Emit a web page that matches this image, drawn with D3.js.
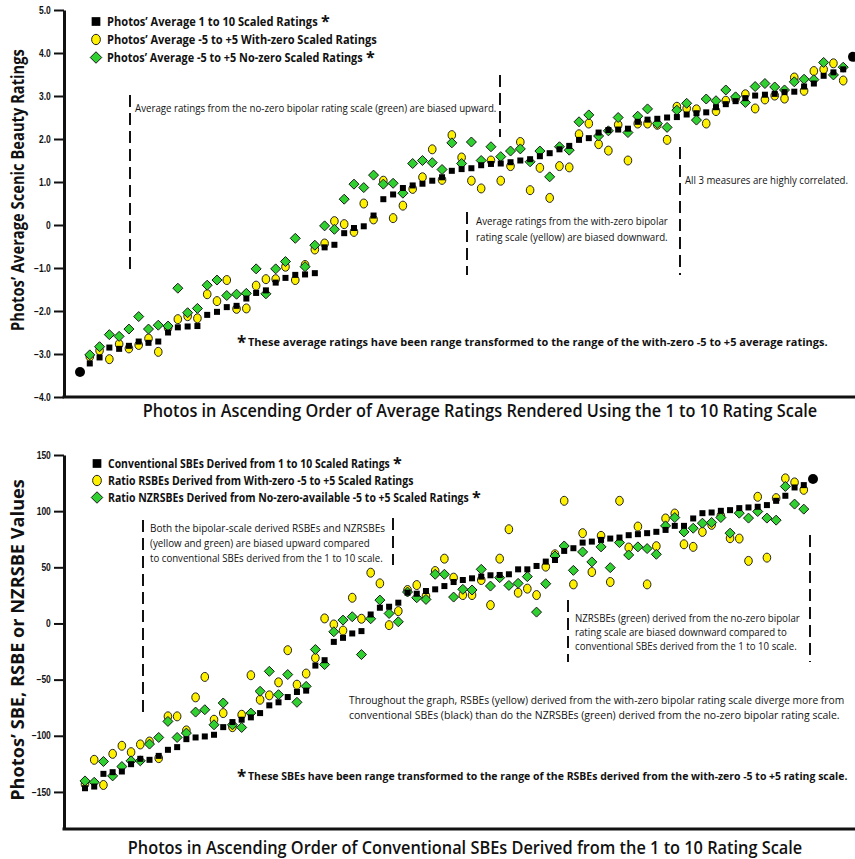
<!DOCTYPE html>
<html lang="en">
<head>
<meta charset="UTF-8">
<title>Scenic Beauty Ratings and SBEs</title>
<script src="https://d3js.org/d3.v7.min.js"></script>
<style>
  body { margin: 0; background: #fff; }
  svg text { font-family: "Open Sans", "DejaVu Sans", sans-serif; fill: #111; }
  .axis .tick text { font-family: "Liberation Sans", sans-serif; font-size: 10px; font-weight: bold; fill: #111; }
  .axis path, .axis line { stroke: #111; }
  .dash { stroke: #111; stroke-width: 2; stroke-dasharray: 12 6; }
  .sq { fill: #000; }
  .yel { fill: #fff000; stroke: #222; stroke-width: 1; }
  .grn { fill: #2fd02f; stroke: #1a1a1a; stroke-width: 1; }
</style>
</head>
<body>
<svg width="855" height="859"></svg>
<script>
// ---- top panel: photos' average ratings (range transformed) ----
const topBlack = [-3.42,-3.22,-3.08,-2.85,-2.88,-2.81,-2.71,-2.74,-2.71,-2.50,
  -2.38,-2.36,-2.35,-2.09,-2.02,-1.91,-1.88,-1.71,-1.58,-1.52,
  -1.34,-1.23,-1.16,-1.15,-1.12,-0.52,-0.46,-0.19,-0.07,-0.03,
  0.22,0.60,0.71,0.86,0.92,0.96,1.03,1.11,1.26,1.30,
  1.32,1.39,1.42,1.43,1.46,1.50,1.53,1.60,1.67,1.76,
  1.84,1.98,2.02,2.15,2.21,2.22,2.24,2.40,2.45,2.47,
  2.50,2.51,2.57,2.60,2.62,2.74,2.81,2.88,2.95,3.01,
  3.03,3.05,3.09,3.10,3.22,3.29,3.47,3.55,3.62,3.91];
const topYellow = [-3.42,-3.06,-2.92,-3.12,-2.77,-2.87,-2.79,-2.64,-2.95,-2.39,
  -2.19,-2.12,-2.17,-1.61,-1.77,-1.28,-1.95,-1.94,-1.41,-1.26,
  -1.26,-0.97,-1.28,-0.93,-0.57,-0.43,0.09,0.02,-0.16,0.50,
  0.13,1.03,0.16,0.45,0.84,1.11,1.76,1.05,2.09,1.57,
  1.03,0.85,1.50,1.03,1.37,1.93,0.81,1.33,0.63,1.37,
  1.34,2.11,2.36,1.88,1.73,2.33,1.50,2.36,2.36,2.33,
  1.98,2.75,2.71,2.69,2.36,2.65,2.89,2.94,3.04,2.71,
  2.92,3.01,2.94,3.43,3.12,3.58,3.62,3.76,3.36,3.91];
const topGreen = [-3.42,-3.02,-2.83,-2.55,-2.59,-2.42,-2.13,-2.42,-2.33,-2.35,
  -1.47,-2.04,-1.94,-1.40,-1.28,-1.64,-1.61,-1.59,-1.02,-1.60,
  -1.02,-0.85,-0.31,-0.97,-0.47,-0.02,-0.10,0.60,0.95,0.87,
  1.16,0.95,0.97,0.74,1.43,1.50,1.45,1.29,1.91,1.43,
  1.93,1.50,1.82,1.59,1.72,1.77,1.47,1.72,1.12,1.82,
  1.74,2.40,2.56,2.07,2.19,2.50,2.15,2.53,2.70,2.36,
  2.27,2.67,2.83,2.44,2.93,2.89,3.14,2.98,2.85,3.22,
  3.29,3.21,3.14,3.33,3.39,3.38,3.78,3.49,3.67,3.91];
const topTicks = [5, 4, 3, 2, 1, 0, -1, -2, -3, -4];

// ---- bottom panel: SBE, RSBE and NZRSBE values ----
const botBlack = [-146.7,-145.2,-133.9,-132.4,-131.8,-125.3,-120.5,-121.4,-117.9,-112.5,
  -110.1,-103.0,-101.5,-100.6,-99.1,-92.3,-87.8,-85.7,-83.6,-79.8,
  -72.9,-70.2,-65.5,-61.0,-59.8,-37.5,-32.7,-16.4,-12.8,-8.9,
  -6.8,8.0,14.0,14.9,18.5,27.4,26.5,28.9,30.4,33.3,
  36.9,38.7,40.2,41.7,42.9,43.2,43.8,48.2,48.2,51.2,
  55.1,56.5,64.6,67.0,72.0,72.9,74.4,75.6,76.5,78.6,
  79.5,80.4,81.6,83.3,86.9,86.9,93.5,98.2,98.8,100.3,
  100.9,102.7,103.3,103.9,105.4,109.2,113.7,121.1,123.2,128.6];
const botYellow = [-143.0,-121.4,-143.8,-116.1,-108.9,-114.6,-107.7,-105.1,-119.9,-82.7,
  -82.7,-95.2,-65.8,-47.6,-85.7,-79.8,-92.3,-81.3,-46.1,-67.9,
  -64.0,-52.4,-23.8,-54.5,-44.6,-30.7,4.5,-0.9,-6.3,22.9,
  4.2,45.2,35.7,-1.5,11.0,29.8,34.2,24.4,46.7,57.7,
  40.8,25.3,25.3,38.7,16.4,57.7,83.9,27.4,31.0,25.3,
  50.6,61.6,109.2,34.8,80.4,45.8,78.0,36.9,109.2,67.6,
  86.3,34.8,68.8,93.5,97.9,70.5,68.2,81.5,87.8,95.8,
  75.9,75.6,55.7,112.8,58.6,111.6,129.2,125.6,119.0,128.6];
const botGreen = [-140.2,-141.4,-122.9,-135.7,-127.4,-122.3,-122.3,-107.4,-101.5,-87.2,
  -101.5,-97.6,-78.9,-76.8,-90.2,-70.8,-90.2,-92.6,-79.8,-60.4,
  -42.6,-63.4,-45.5,-70.2,-56.0,-23.2,-36.6,-7.4,3.0,6.0,
  -27.7,4.2,20.8,8.9,1.5,28.0,22.9,21.4,43.8,43.8,
  23.5,30.4,29.8,48.2,33.3,40.8,33.9,35.7,41.7,10.1,
  35.4,60.1,69.0,47.3,63.7,54.8,68.2,49.7,72.0,61.0,
  68.2,66.7,61.6,86.9,94.3,81.5,84.8,89.3,89.9,94.3,
  80.4,98.2,93.8,99.7,93.8,92.0,122.0,106.3,101.8,128.6];
const botTicks = [150, 100, 50, 0, -50, -100, -150];

const topLegend = [
  ["sq", "Photos\u2019 Average 1 to 10 Scaled Ratings", true, 211],
  ["yel", "Photos\u2019 Average -5 to +5 With-zero Scaled Ratings", false, 270],
  ["grn", "Photos\u2019 Average -5 to +5 No-zero Scaled Ratings", true, 256]
];
const botLegend = [
  ["sq", "Conventional SBEs Derived from 1 to 10 Scaled Ratings", true, 282],
  ["yel", "Ratio RSBEs Derived from With-zero -5 to +5 Scaled Ratings", false, 306],
  ["grn", "Ratio NZRSBEs Derived from No-zero-available -5 to +5 Scaled Ratings", true, 361]
];

const svg = d3.select("svg");

// text squeezed horizontally to the width it has in the original (narrow face there)
function txt(g, x, y, s, size, weight, len, anchor, rot) {
  const t = g.append("text")
    .attr("font-size", size)
    .attr("font-weight", weight || "normal")
    .attr("text-anchor", anchor || "start")
    .text(s);
  const k = len ? len / t.node().getComputedTextLength() : 1;
  t.attr("transform", `translate(${x},${y})${rot ? " rotate(-90)" : ""} scale(${k},1)`);
  return t;
}

function dashed(g, x, y1, y2) {
  g.append("line").attr("class", "dash")
    .attr("x1", x).attr("x2", x).attr("y1", y1).attr("y2", y2);
}

function marker(g, kind, cx, cy, s) {
  s = s || 1;
  if (kind === "sq") {
    g.append("rect").attr("class", "sq")
      .attr("x", cx - 3 * s).attr("y", cy - 3 * s)
      .attr("width", 6 * s).attr("height", 6 * s);
  } else if (kind === "yel") {
    g.append("ellipse").attr("class", "yel")
      .attr("cx", cx).attr("cy", cy).attr("rx", 3.8 * s).attr("ry", 4.5 * s);
  } else {
    const r = 5 * s;
    g.append("path").attr("class", "grn")
      .attr("d", `M${cx},${cy - r}L${cx + r},${cy}L${cx},${cy + r}L${cx - r},${cy}Z`);
  }
}

function panel(cfg) {
  const g = svg.append("g");
  const x = d3.scaleLinear().domain([0, cfg.black.length - 1]).range(cfg.xRange);
  const y = d3.scaleLinear().domain(cfg.yDomain).range(cfg.yRange);

  // axes
  const ax = g.append("g").attr("class", "axis")
    .attr("transform", `translate(${cfg.axisX},0)`)
    .call(d3.axisLeft(y).tickValues(cfg.ticks).tickSize(10).tickSizeOuter(0)
      .tickFormat(cfg.fmt).tickPadding(3));
  ax.select(".domain").attr("stroke-width", 3);
  ax.selectAll(".tick line").attr("stroke-width", 2);
  ax.selectAll(".tick text").attr("transform", "scale(0.85,1)").attr("x", -15.5);
  g.append("line")
    .attr("x1", cfg.axisX - 1.5).attr("x2", 855)
    .attr("y1", cfg.yRange[0]).attr("y2", cfg.yRange[0])
    .attr("stroke", "#111").attr("stroke-width", 3);

  // points: yellow, then green, then black on top
  const idx = d3.range(cfg.black.length);
  const tied = i => cfg.black[i] === cfg.yellow[i] && cfg.black[i] === cfg.green[i];
  const pts = g.append("g");
  idx.filter(i => !tied(i)).forEach(i => marker(pts, "yel", x(i), y(cfg.yellow[i])));
  idx.filter(i => !tied(i)).forEach(i => marker(pts, "grn", x(i), y(cfg.green[i])));
  idx.filter(i => !tied(i)).forEach(i => marker(pts, "sq", x(i), y(cfg.black[i])));
  idx.filter(tied).forEach(i =>
    pts.append("circle").attr("cx", x(i)).attr("cy", y(cfg.black[i])).attr("r", 5).attr("fill", "#000"));

  // legend
  cfg.legend.forEach((d, i) => {
    const ly = cfg.legendY + i * cfg.legendStep;
    marker(g, d[0], cfg.legendX, ly, d[0] === "sq" ? 1.45 : 1.15);
    txt(g, cfg.legendX + 11, ly + 4.5, d[1], 12, "bold", d[3]);
    if (d[2]) txt(g, cfg.legendX + 14 + d[3], ly + 5, "*", 16, "bold");
  });

  // axis titles
  txt(g, cfg.yTitleX, cfg.yTitleY, cfg.yTitle, 17, "bold", cfg.yTitleLen, "middle", true);
  txt(g, cfg.xTitleX, cfg.xTitleY, cfg.xTitle, 18, 600, cfg.xTitleLen, "middle");
  return g;
}

const topG = panel({
  black: topBlack, yellow: topYellow, green: topGreen,
  xRange: [80, 853], yDomain: [-4, 5], yRange: [397, 10], axisX: 64,
  ticks: topTicks, fmt: d => d === 0 ? "0" : d3.format(".1f")(d),
  legend: topLegend, legendX: 96, legendY: 21.5, legendStep: 18,
  yTitle: "Photos\u2019 Average Scenic Beauty Ratings", yTitleX: 24, yTitleY: 190, yTitleLen: 282,
  xTitle: "Photos in Ascending Order of Average Ratings Rendered Using the 1 to 10 Rating Scale",
  xTitleX: 480, xTitleY: 417, xTitleLen: 675
});

const botG = panel({
  black: botBlack, yellow: botYellow, green: botGreen,
  xRange: [85, 813], yDomain: [-183, 150], yRange: [829, 455], axisX: 64,
  ticks: botTicks, fmt: d3.format("d"),
  legend: botLegend, legendX: 97, legendY: 463.5, legendStep: 17,
  yTitle: "Photos\u2019 SBE, RSBE or NZRSBE Values", yTitleX: 24, yTitleY: 640, yTitleLen: 322,
  xTitle: "Photos in Ascending Order of Conventional SBEs Derived from the 1 to 10 Rating Scale",
  xTitleX: 465, xTitleY: 854, xTitleLen: 675
});

// annotations, top panel
txt(topG, 135, 112, "Average ratings from the no-zero bipolar rating scale (green) are biased upward.", 11, "normal", 362);
txt(topG, 476, 225, "Average ratings from the with-zero bipolar", 11, "normal", 192);
txt(topG, 476, 241, "rating scale (yellow) are biased downward.", 11, "normal", 192);
txt(topG, 685, 184, "All 3 measures are highly correlated.", 11, "normal", 163);
txt(topG, 237, 349, "*", 17, "bold");
txt(topG, 248, 346, "These average ratings have been range transformed to the range of the with-zero -5 to +5 average ratings.", 11, "bold", 580);
dashed(topG, 130, 95, 270);
dashed(topG, 500, 75, 137);
dashed(topG, 467, 212, 275);
dashed(topG, 680, 147, 275);

// annotations, bottom panel
txt(botG, 150, 532, "Both the bipolar-scale derived RSBEs and NZRSBEs", 11, "normal", 235);
txt(botG, 150, 547, "(yellow and green) are biased upward compared", 11, "normal", 220);
txt(botG, 150, 562, "to conventional SBEs derived from the 1 to 10 scale.", 11, "normal", 233);
txt(botG, 575, 622, "NZRSBEs (green) derived from the no-zero bipolar", 11, "normal", 225);
txt(botG, 575, 636, "rating scale are biased downward compared to", 11, "normal", 212);
txt(botG, 575, 650, "conventional SBEs derived from the 1 to 10 scale.", 11, "normal", 222);
txt(botG, 349, 704, "Throughout the graph, RSBEs (yellow) derived from the with-zero bipolar rating scale diverge more from", 11, "normal", 496);
txt(botG, 349, 719, "conventional SBEs (black) than do the NZRSBEs (green) derived from the no-zero bipolar rating scale.", 11, "normal", 491);
txt(botG, 237, 783, "*", 17, "bold");
txt(botG, 248, 780, "These SBEs have been range transformed to the range of the RSBEs derived from the with-zero -5 to +5 rating scale.", 11, "bold", 600);
dashed(botG, 143, 520, 712);
dashed(botG, 393, 518, 565);
dashed(botG, 568, 600, 662);
dashed(botG, 810, 535, 662);
</script>
</body>
</html>
